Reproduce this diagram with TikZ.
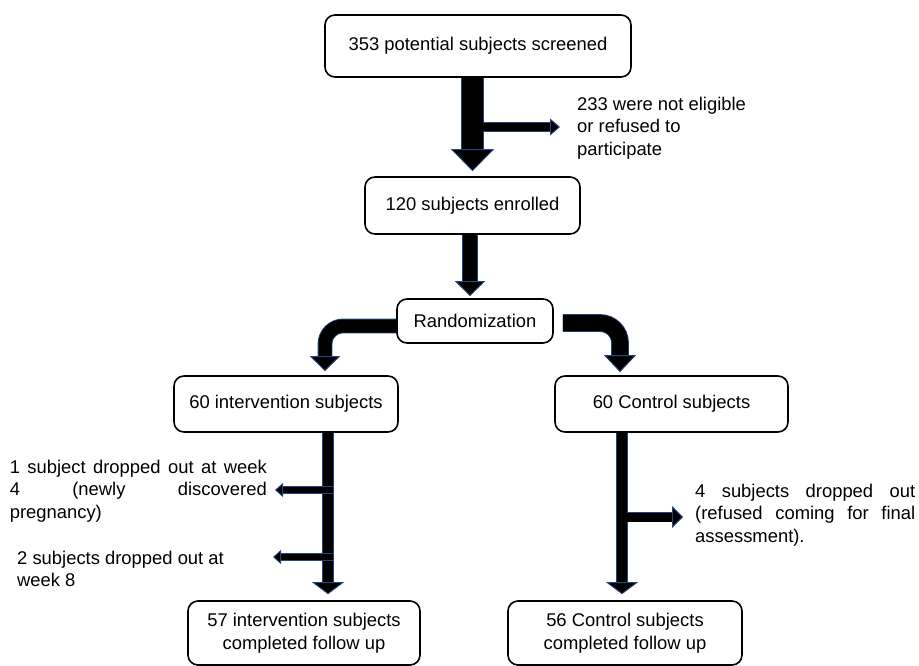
\documentclass[tikz,border=0pt]{standalone}
\usepackage{fontspec}
\setmainfont{Liberation Sans}
\usetikzlibrary{arrows.meta, positioning, calc}
\definecolor{edgeblue}{RGB}{38,68,125}

\begin{document}
\begin{tikzpicture}[x=1pt, y=-1pt,
    box/.style = {draw, line width=1.6pt, rounded corners=10pt, align=center,
                  inner sep=0pt, font=\fontsize{18.4}{22.5}\selectfont},
    note/.style = {inner sep=0pt, font=\fontsize{18.4}{22.5}\selectfont},
    fat arrow/.style n args={4}{draw=black, line width=#1, shorten >=#4,
            -{Triangle[width=#2, length=#3, fill=black, color=edgeblue, line width=0.9pt]},
            preaction={draw=edgeblue, -, line width=#1+1.8pt, shorten >=#4+#3-1pt}}]
    \useasboundingbox (0,0) rectangle (919,666);

    % boxes
    \node[box, minimum width=306pt, minimum height=62pt] (scr) at (478,46) {353 potential subjects screened};
    \node[box, minimum width=215pt, minimum height=57pt] (enr) at (472.5,205.5) {120 subjects enrolled};
    \node[box, minimum width=156pt, minimum height=44pt] (rnd) at (475,321) {Randomization};
    \node[box, minimum width=224pt, minimum height=56pt] (int) at (286,404) {60 intervention subjects};
    \node[box, minimum width=233pt, minimum height=56pt] (ctl) at (671.5,404) {60 Control subjects};
    \node[box, minimum width=232pt, minimum height=64pt] (int2) at (304,633) {57 intervention subjects\\completed follow up};
    \node[box, minimum width=234pt, minimum height=64pt] (ctl2) at (625,633) {56 Control subjects\\completed follow up};

    % side texts
    \node[note, anchor=west, align=left] (excl) at (577,128) {233 were not eligible\\or refused to\\participate};
    \node[note, anchor=east, text width=257pt, align=justify] (d1) at (267,491)
        {1 subject dropped out at week\linebreak 4 (newly discovered\linebreak pregnancy)};
    \node[note, anchor=west, align=left] (d2) at (17,569) {2 subjects dropped out at\\week 8};
    \node[note, anchor=west, text width=220pt, align=justify] (d4) at (695,515)
        {4 subjects dropped out\linebreak (refused coming for final\linebreak assessment).};

    % main arrows
    \draw[fat arrow={21pt}{43pt}{22pt}{5pt}] (scr.south -| enr.north) -- (enr.north);
    \draw[fat arrow={14pt}{30pt}{15pt}{2pt}] ($(enr.south)+(-2.5,0)$) -- ($(enr.south |- rnd.north)+(-2.5,0)$);
    \draw[fat arrow={13pt}{30pt}{15pt}{4pt}, rounded corners=18pt] ($(rnd.west)+(0,5)$) -| ($(int.north)+(39,0)$);
    \draw[fat arrow={16pt}{32pt}{17pt}{3pt}, rounded corners=20pt] ($(rnd.east)+(9,2)$) -| ($(ctl.north)+(-51.5,0)$);

    \coordinate (ia) at ($(int.south)+(42,0)$);
    \coordinate (ca) at ($(ctl2.north |- ctl.south)+(-3,0)$);
    \draw[fat arrow={10pt}{32pt}{12pt}{6pt}] (ia) -- (ia |- int2.north);
    \draw[fat arrow={10pt}{32pt}{12pt}{6pt}] (ca) -- (ca |- ctl2.north);

    % drop out arrows
    \coordinate (s0) at (483,127);
    \coordinate (s1) at (333,490);
    \coordinate (s2) at (333,557);
    \coordinate (t2) at (273,557);
    \coordinate (s3) at (627,517);
    \draw[fat arrow={8pt}{17pt}{10pt}{17pt}] (s0) -- (s0 -| excl.west);
    \draw[fat arrow={6pt}{14pt}{8pt}{8pt}] (s1) -- (s1 -| d1.east);
    \draw[fat arrow={6pt}{14pt}{8pt}{0pt}] (s2) -- (t2);
    \draw[fat arrow={9pt}{22pt}{11pt}{12pt}] (s3) -- (s3 -| d4.west);
\end{tikzpicture}
\end{document}
